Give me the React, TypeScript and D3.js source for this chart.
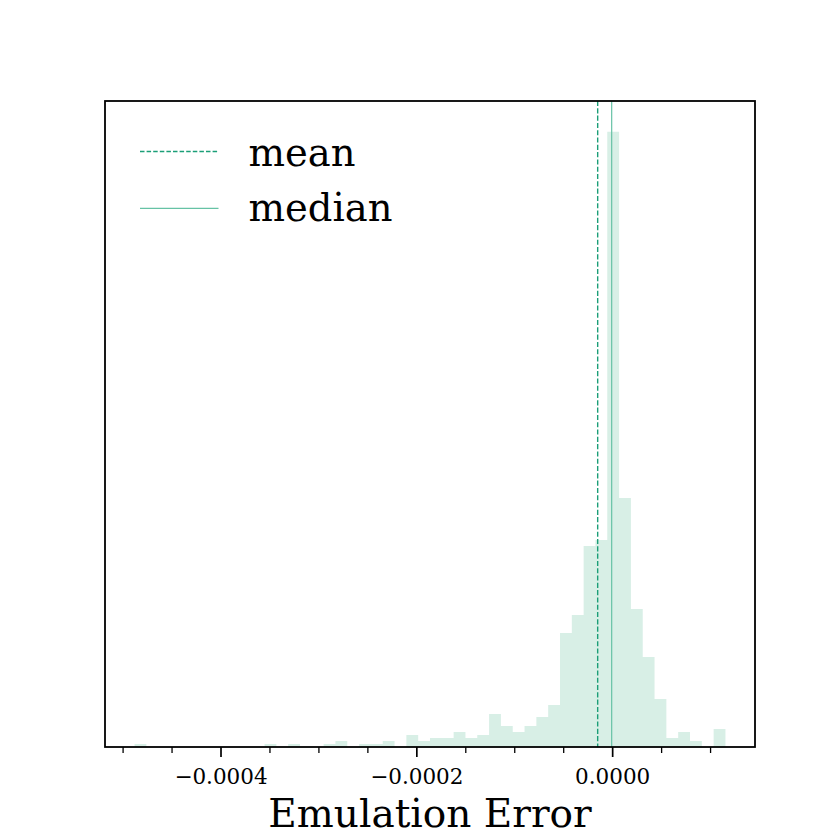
import React from "react";
import * as d3 from "d3";

// Histogram of emulation error: 50 equal bins between data min and max
const dataMin = -0.0004883;
const dataMax = 0.0001152;
const binCounts = [
  1, 0, 0, 0, 0, 0, 0, 0, 0, 0,
  0, 1, 0, 1, 0, 0, 1, 2, 0, 1,
  1, 2, 0, 4, 2, 3, 3, 5, 3, 4,
  11, 7, 5, 7, 10, 14, 38, 44, 67, 69,
  205, 83, 46, 30, 16, 3, 5, 2, 0, 6,
];
const meanValue = -0.0000153;
const medianValue = -0.000001;
const majorTicks = [-0.0004, -0.0002, 0.0];
const majorTickLabels = ["\u22120.0004", "\u22120.0002", "0.0000"];
const minorTicks = [-0.0005, -0.00045, -0.00035, -0.0003, -0.00025, -0.00015, -0.0001, -0.00005, 0.00005, 0.0001];
const legendLabels = ["mean", "median"];
const xLabel = "Emulation Error";

const W = 840;
const H = 840;
const left = 105;
const right = 755;
const top = 101;
const bottom = 747;

const meanColor = "#1b9e77";
const medianColor = "#66c2a5";
const barColor = "#d8efe6";
const font = "'DejaVu Serif', serif";

export default function App() {
  const nBins = binCounts.length;
  const span = dataMax - dataMin;
  const binW = span / nBins;
  const x = d3
    .scaleLinear()
    .domain([dataMin - 0.05 * span, dataMax + 0.05 * span])
    .range([left, right]);
  const maxCount = d3.max(binCounts) as number;
  const y = d3.scaleLinear().domain([0, maxCount * 1.05]).range([bottom, top]);

  // single step path for all bars (no seams between adjacent bars)
  const p = d3.path();
  p.moveTo(x(dataMin), y(0));
  binCounts.forEach((c, i) => {
    const x0 = x(dataMin + i * binW);
    const x1 = x(dataMin + (i + 1) * binW);
    p.lineTo(x0, y(c));
    p.lineTo(x1, y(c));
  });
  p.lineTo(x(dataMax), y(0));
  p.closePath();

  return (
    <div style={{ position: "absolute", left: 0, top: 0 }}>
      <svg width={W} height={H} style={{ display: "block", background: "#fff" }}>
        <path d={p.toString()} fill={barColor} stroke="none" />
        <line
          x1={x(meanValue)}
          x2={x(meanValue)}
          y1={top}
          y2={bottom}
          stroke={meanColor}
          strokeWidth={1.4}
          strokeDasharray="5.1 2.2"
        />
        <line
          x1={x(medianValue)}
          x2={x(medianValue)}
          y1={top}
          y2={bottom}
          stroke={medianColor}
          strokeWidth={1.2}
        />
        {/* spines */}
        <rect
          x={left}
          y={top}
          width={right - left}
          height={bottom - top}
          fill="none"
          stroke="#000"
          strokeWidth={1.8}
        />
        {/* ticks */}
        {minorTicks.map((t, i) => (
          <line key={"m" + i} x1={x(t)} x2={x(t)} y1={bottom} y2={bottom + 6} stroke="#000" strokeWidth={1.3} />
        ))}
        {majorTicks.map((t, i) => (
          <g key={"M" + i}>
            <line x1={x(t)} x2={x(t)} y1={bottom} y2={bottom + 10} stroke="#000" strokeWidth={1.7} />
            <text
              x={x(t)}
              y={784.3}
              textAnchor="middle"
              fontFamily={font}
              fontSize={21.5}
              fill="#000"
            >
              {majorTickLabels[i]}
            </text>
          </g>
        ))}
        <text
          x={(left + right) / 2}
          y={827.3}
          textAnchor="middle"
          fontFamily={font}
          fontSize={39}
          fill="#000"
        >
          {xLabel}
        </text>
        {/* legend */}
        <line x1={140} x2={218.5} y1={151.5} y2={151.5} stroke={meanColor} strokeWidth={1.4} strokeDasharray="4.5 2.1" />
        <line x1={140} x2={218.5} y1={208.3} y2={208.3} stroke={medianColor} strokeWidth={1.2} />
        <text x={248.5} y={165.7} fontFamily={font} fontSize={38.5} fill="#000">
          {legendLabels[0]}
        </text>
        <text x={248.5} y={221} fontFamily={font} fontSize={38.5} fill="#000">
          {legendLabels[1]}
        </text>
      </svg>
    </div>
  );
}
